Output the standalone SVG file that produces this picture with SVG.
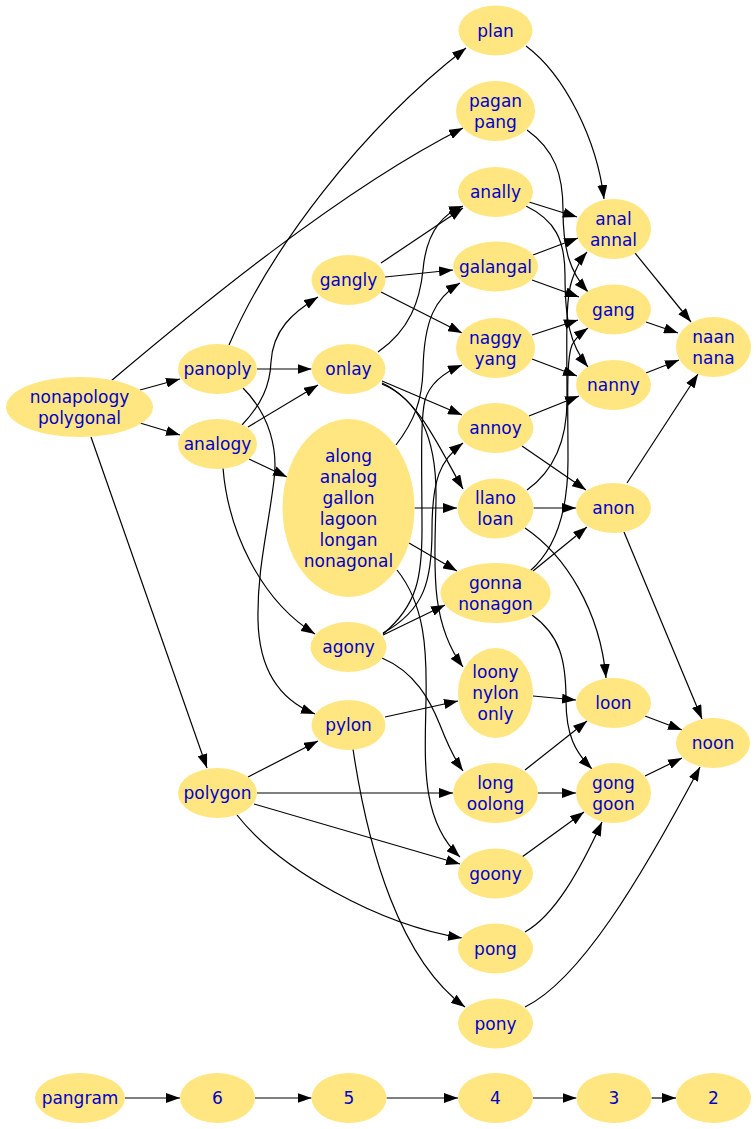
<svg xmlns="http://www.w3.org/2000/svg" width="756" height="1129" viewBox="0 0 756 1129">
<style>
.node ellipse{fill:#ffe680;stroke:none}
.node text{font-family:"DejaVu Sans","Liberation Sans",sans-serif;font-size:17px;fill:#0000cc;text-anchor:middle}
.edges path{fill:none;stroke:#000;stroke-width:1.2;marker-end:url(#arr)}
</style>
<defs>
<marker id="arr" viewBox="0 0 14 10" refX="14" refY="5" markerWidth="14" markerHeight="10" markerUnits="userSpaceOnUse" orient="auto"><path d="M0,0 L14,5 L0,10 z" fill="#000"/></marker>
</defs>
<rect width="756" height="1129" fill="#fff"/>
<g class="edges" id="edges">
<path id="e_nonapology_panoply" d="M140,390 L180,379"/>
<path id="e_nonapology_analogy" d="M140,423 L180,435"/>
<path id="e_nonapology_polygon" d="M91,437 L207,768"/>
<path id="e_nonapology_pagan" d="M111,381 C195,310 340,190 463,128"/>
<path id="e_panoply_plan" d="M229,345 C270,250 360,130 466,48"/>
<path id="e_panoply_onlay" d="M257,369 L311.5,369"/>
<path id="e_panoply_pylon" d="M243,388 C270,415 278,450 274,480 C268,530 257,570 258,620 C259,670 280,700 315,714"/>
<path id="e_analogy_gangly" d="M242,425 C262,404 270,385 271,362 C273,330 292,313 318,297"/>
<path id="e_analogy_onlay" d="M248,427 L318,385"/>
<path id="e_analogy_along" d="M249,459 L287,477"/>
<path id="e_analogy_agony" d="M223,468 C228,530 260,600 315,634"/>
<path id="e_polygon_pylon" d="M248,777 L318,741"/>
<path id="e_polygon_long" d="M257,793 L453,793"/>
<path id="e_polygon_goony" d="M254,804 L460,864"/>
<path id="e_polygon_pong" d="M237,815 C280,870 380,925 462,938"/>
<path id="e_gangly_anally" d="M381,263 L463,208"/>
<path id="e_gangly_galangal" d="M385,277 L453,270"/>
<path id="e_gangly_naggy" d="M381,292 L462,333"/>
<path id="e_onlay_anally" d="M378,352 C410,330 420,300 423,270 C426,235 440,215 463,206"/>
<path id="e_onlay_annoy" d="M382,381 L462,415"/>
<path id="e_onlay_llano" d="M382,383 C420,400 440,450 463,489"/>
<path id="e_onlay_loony" d="M382,384 C420,400 437,440 436,500 C435,560 428,620 463,667"/>
<path id="e_along_galangal" d="M396,445 C415,420 422,400 423,370 C424,320 435,298 460,283"/>
<path id="e_along_llano" d="M414.5,508 L457,508"/>
<path id="e_along_gonna" d="M409,543 L457,571"/>
<path id="e_along_goony" d="M397,570 C425,605 427,650 426,700 C425,760 420,820 460,857"/>
<path id="e_agony_gonna" d="M383,635 L445,605"/>
<path id="e_agony_annoy" d="M383,633 C425,610 432,580 432,530 C432,480 440,460 463,443"/>
<path id="e_agony_naggy" d="M383,634 C418,605 422,575 422,530 C422,470 420,420 425,400 C430,383 445,372 462,365"/>
<path id="e_agony_long" d="M382,658 C415,672 430,700 440,725 C447,743 453,757 463,771"/>
<path id="e_pylon_loony" d="M385,717 L458,701"/>
<path id="e_pylon_pony" d="M353,749 C368,850 400,960 465,1007"/>
<path id="e_plan_anal" d="M526,46 C565,75 597,140 604,199"/>
<path id="e_pagan_gang" d="M527,130 C555,150 563,175 563,210 C563,250 570,272 588,292"/>
<path id="e_anally_anal" d="M529,202 L577,217"/>
<path id="e_anally_nanny" d="M526,206 C555,220 565,240 565,275 C565,320 570,345 588,367"/>
<path id="e_galangal_anal" d="M533,255 L578,238"/>
<path id="e_galangal_gang" d="M532,280 L579,297"/>
<path id="e_naggy_gang" d="M532,335 L578,320"/>
<path id="e_naggy_nanny" d="M532,359 L577,376"/>
<path id="e_annoy_nanny" d="M529,416 L579,396"/>
<path id="e_annoy_anon" d="M522,446 L586,490"/>
<path id="e_llano_anon" d="M533.5,508 L576,508"/>
<path id="e_llano_anal" d="M527,490 C555,470 567,440 567,400 C567,340 565,300 572,280 C576,268 580,260 587,252"/>
<path id="e_llano_loon" d="M525,528 C565,555 600,610 606,678"/>
<path id="e_gonna_gang" d="M530,571 C560,545 568,500 568,460 C568,400 566,360 572,345 C576,337 581,333 588,328"/>
<path id="e_gonna_anon" d="M533,571 L587,527"/>
<path id="e_gonna_gong" d="M532,615 C560,635 566,660 566,700 C566,735 575,752 592,769"/>
<path id="e_loony_loon" d="M533,696 L576,700"/>
<path id="e_long_loon" d="M525,770 L587,721"/>
<path id="e_long_gong" d="M538,793 L576,793"/>
<path id="e_goony_gong" d="M522,857 L584,812"/>
<path id="e_pong_gong" d="M525,932 C555,915 580,870 602,822"/>
<path id="e_pony_noon" d="M525,1007 C580,980 640,880 700,767"/>
<path id="e_anal_naan" d="M635,253 L691,322"/>
<path id="e_gang_naan" d="M646,322 L678,333"/>
<path id="e_nanny_naan" d="M646,373 L679,360"/>
<path id="e_anon_naan" d="M627,483 L698,374"/>
<path id="e_anon_noon" d="M624,532 L702,719"/>
<path id="e_loon_noon" d="M645,716 L682,730"/>
<path id="e_gong_noon" d="M645,776 L682,758"/>
<path id="e_pangram_6" d="M125,1098 L180,1098"/>
<path id="e_6_5" d="M255,1098 L311.5,1098"/>
<path id="e_5_4" d="M386.5,1098 L458,1098"/>
<path id="e_4_3" d="M533,1098 L576.5,1098"/>
<path id="e_3_2" d="M651.5,1098 L676,1098"/>
</g>
<g class="node" id="n_nonapology"><ellipse cx="79.5" cy="407" rx="73.5" ry="30"/><text x="79.5" y="402.5">nonapology</text><text x="79.5" y="423.5">polygonal</text></g>
<g class="node" id="n_panoply"><ellipse cx="217.5" cy="369" rx="39.5" ry="25"/><text x="217.5" y="375">panoply</text></g>
<g class="node" id="n_analogy"><ellipse cx="217.5" cy="444" rx="39.5" ry="25"/><text x="217.5" y="450">analogy</text></g>
<g class="node" id="n_polygon"><ellipse cx="217.5" cy="793" rx="39.5" ry="25"/><text x="217.5" y="799">polygon</text></g>
<g class="node" id="n_gangly"><ellipse cx="348.5" cy="280" rx="37" ry="25"/><text x="348.5" y="286">gangly</text></g>
<g class="node" id="n_onlay"><ellipse cx="348.5" cy="369" rx="37" ry="25"/><text x="348.5" y="375">onlay</text></g>
<g class="node" id="n_along"><ellipse cx="348.5" cy="508" rx="66" ry="89"/><text x="348.5" y="461.5">along</text><text x="348.5" y="482.5">analog</text><text x="348.5" y="503.5">gallon</text><text x="348.5" y="524.5">lagoon</text><text x="348.5" y="545.5">longan</text><text x="348.5" y="566.5">nonagonal</text></g>
<g class="node" id="n_agony"><ellipse cx="348.5" cy="647" rx="38" ry="25"/><text x="348.5" y="653">agony</text></g>
<g class="node" id="n_pylon"><ellipse cx="348.5" cy="725" rx="37" ry="25"/><text x="348.5" y="731">pylon</text></g>
<g class="node" id="n_plan"><ellipse cx="495.5" cy="30.5" rx="37" ry="25"/><text x="495.5" y="36.5">plan</text></g>
<g class="node" id="n_pagan"><ellipse cx="495.5" cy="111" rx="39.5" ry="30"/><text x="495.5" y="106.5">pagan</text><text x="495.5" y="127.5">pang</text></g>
<g class="node" id="n_anally"><ellipse cx="495.5" cy="192" rx="37.5" ry="25"/><text x="495.5" y="198">anally</text></g>
<g class="node" id="n_galangal"><ellipse cx="495.5" cy="266.5" rx="42.5" ry="25"/><text x="495.5" y="272.5">galangal</text></g>
<g class="node" id="n_naggy"><ellipse cx="495.5" cy="348" rx="39.5" ry="30"/><text x="495.5" y="343.5">naggy</text><text x="495.5" y="364.5">yang</text></g>
<g class="node" id="n_annoy"><ellipse cx="495.5" cy="428" rx="38" ry="25"/><text x="495.5" y="434">annoy</text></g>
<g class="node" id="n_llano"><ellipse cx="495.5" cy="508.5" rx="38" ry="30"/><text x="495.5" y="504">llano</text><text x="495.5" y="525">loan</text></g>
<g class="node" id="n_gonna"><ellipse cx="495.5" cy="593" rx="55" ry="30"/><text x="495.5" y="588.5">gonna</text><text x="495.5" y="609.5">nonagon</text></g>
<g class="node" id="n_loony"><ellipse cx="495.5" cy="693" rx="37.5" ry="45"/><text x="495.5" y="678">loony</text><text x="495.5" y="699">nylon</text><text x="495.5" y="720">only</text></g>
<g class="node" id="n_long"><ellipse cx="495.5" cy="793" rx="42.5" ry="30"/><text x="495.5" y="788.5">long</text><text x="495.5" y="809.5">oolong</text></g>
<g class="node" id="n_goony"><ellipse cx="495.5" cy="873.5" rx="37.5" ry="25"/><text x="495.5" y="879.5">goony</text></g>
<g class="node" id="n_pong"><ellipse cx="495.5" cy="948.5" rx="37.5" ry="25"/><text x="495.5" y="954.5">pong</text></g>
<g class="node" id="n_pony"><ellipse cx="495.5" cy="1023.5" rx="37.5" ry="25"/><text x="495.5" y="1029.5">pony</text></g>
<g class="node" id="n_anal"><ellipse cx="613.5" cy="229" rx="37.5" ry="30"/><text x="613.5" y="224.5">anal</text><text x="613.5" y="245.5">annal</text></g>
<g class="node" id="n_gang"><ellipse cx="613.5" cy="309.5" rx="37.5" ry="25"/><text x="613.5" y="315.5">gang</text></g>
<g class="node" id="n_nanny"><ellipse cx="613.5" cy="385" rx="37.5" ry="25"/><text x="613.5" y="391">nanny</text></g>
<g class="node" id="n_anon"><ellipse cx="613.5" cy="508" rx="37.5" ry="25"/><text x="613.5" y="514">anon</text></g>
<g class="node" id="n_loon"><ellipse cx="613.5" cy="703" rx="37.5" ry="25"/><text x="613.5" y="709">loon</text></g>
<g class="node" id="n_gong"><ellipse cx="613.5" cy="793" rx="37.5" ry="30"/><text x="613.5" y="788.5">gong</text><text x="613.5" y="809.5">goon</text></g>
<g class="node" id="n_naan"><ellipse cx="713.5" cy="347" rx="37.5" ry="30"/><text x="713.5" y="342.5">naan</text><text x="713.5" y="363.5">nana</text></g>
<g class="node" id="n_noon"><ellipse cx="713" cy="743" rx="37" ry="25"/><text x="713" y="749">noon</text></g>
<g class="node" id="n_pangram"><ellipse cx="80" cy="1098" rx="45" ry="25"/><text x="80" y="1104">pangram</text></g>
<g class="node" id="n_6"><ellipse cx="217.5" cy="1098" rx="37.5" ry="25"/><text x="217.5" y="1104">6</text></g>
<g class="node" id="n_5"><ellipse cx="349" cy="1098" rx="37.5" ry="25"/><text x="349" y="1104">5</text></g>
<g class="node" id="n_4"><ellipse cx="495.5" cy="1098" rx="37.5" ry="25"/><text x="495.5" y="1104">4</text></g>
<g class="node" id="n_3"><ellipse cx="614" cy="1098" rx="37.5" ry="25"/><text x="614" y="1104">3</text></g>
<g class="node" id="n_2"><ellipse cx="713.5" cy="1098" rx="37.5" ry="25"/><text x="713.5" y="1104">2</text></g>
</svg>
